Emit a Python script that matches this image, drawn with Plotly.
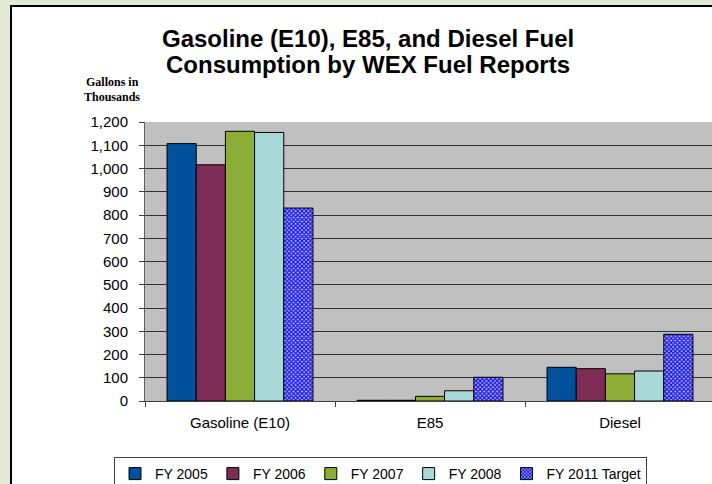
import plotly.graph_objects as go

categories = ["Gasoline (E10)", "E85", "Diesel"]
series_names = ["FY 2005", "FY 2006", "FY 2007", "FY 2008", "FY 2011 Target"]
fy2005 = [1107, 3, 145]
fy2006 = [1016, 3, 139]
fy2007 = [1160, 20, 117]
fy2008 = [1155, 44, 129]
fy2011_target = [830, 102, 287]
y_ticks = list(range(0, 1300, 100))

series_values = [fy2005, fy2006, fy2007, fy2008, fy2011_target]
colors = ["#00509c", "#7e2c56", "#8cae36", "#a8d8d8", "#5a5af0"]

W, H = 720, 496          # slightly larger than the window: plot area and legend run off the edges
P_LEFT, P_TOP, P_BOTTOM = 145, 122, 401
L, T, B, R = P_LEFT, P_TOP, H - P_BOTTOM, 0
pw = W - L - R
ph = H - T - B
CAT_W = 190

def px(x):
    return (x - P_LEFT) / pw

def py(y):
    return (P_BOTTOM - y) / ph

fig = go.Figure()
for i, (name, vals) in enumerate(zip(series_names, series_values)):
    marker = dict(color=colors[i], line=dict(color="black", width=1))
    if i == 4:
        marker["pattern"] = dict(shape="x", fgcolor="#1010e0", bgcolor="#b0b0ff",
                                 size=3, solidity=0.6, fillmode="replace")
    fig.add_trace(go.Bar(x=categories, y=vals, name=name, marker=marker))

shapes = [
    dict(type="rect", xref="paper", yref="paper", x0=px(11), x1=1.2, y0=-0.5, y1=py(6),
         fillcolor="white", line=dict(color="black", width=2), layer="below"),
    dict(type="rect", xref="paper", yref="paper", x0=0, x1=1.01, y0=0, y1=1,
         fillcolor="#c0c0c0", line=dict(width=0), layer="below"),
]

FONT = "Arial, Liberation Sans, sans-serif"
fig.update_layout(
    width=W, height=H,
    margin=dict(l=L, r=R, t=T, b=B, pad=0),
    paper_bgcolor="#e3ebd7",
    plot_bgcolor="rgba(0,0,0,0)",
    barmode="group", bargap=0.232, bargroupgap=0,
    shapes=shapes,
    font=dict(family=FONT, size=15, color="black"),
    xaxis=dict(range=[-0.5, -0.5 + pw / CAT_W], tickson="boundaries", ticks="outside", ticklen=5,
               tickcolor="#404040", showline=True, linecolor="#404040", linewidth=1,
               showgrid=False, ticklabelstandoff=8, fixedrange=True,
               tickfont=dict(size=15)),
    yaxis=dict(range=[0, 1200], tickvals=y_ticks, tickformat=",", ticks="outside", ticklen=5,
               tickcolor="#404040", showline=True, linecolor="#606060", linewidth=1,
               showgrid=True, gridcolor="#303030", gridwidth=1, zeroline=False,
               ticklabelstandoff=8, fixedrange=True, tickfont=dict(size=15)),
    legend=dict(orientation="h", x=px(114), xanchor="left", y=py(457), yanchor="top",
                bordercolor="#404040", borderwidth=1, bgcolor="white",
                font=dict(size=14, family=FONT), traceorder="normal"),
    annotations=[
        dict(text="<b>Gasoline (E10), E85, and Diesel Fuel</b>", xref="paper", yref="paper",
             x=px(368), y=py(39), xanchor="center", yanchor="middle", showarrow=False,
             font=dict(family=FONT, size=24, color="black")),
        dict(text="<b>Consumption by WEX Fuel Reports</b>", xref="paper", yref="paper",
             x=px(368), y=py(64), xanchor="center", yanchor="middle", showarrow=False,
             font=dict(family=FONT, size=24, color="black")),
        dict(text="<b>Gallons in</b>", xref="paper", yref="paper",
             x=px(112), y=py(82), xanchor="center", yanchor="middle", showarrow=False,
             font=dict(family="Liberation Serif, Times New Roman, serif", size=12, color="black")),
        dict(text="<b>Thousands</b>", xref="paper", yref="paper",
             x=px(112), y=py(97), xanchor="center", yanchor="middle", showarrow=False,
             font=dict(family="Liberation Serif, Times New Roman, serif", size=12, color="black")),
    ],
)

fig.write_html(
    "out.html",
    config={"displayModeBar": False, "staticPlot": True},
    post_script=(
        "document.body.style.margin='0';"
        "document.body.style.overflow='hidden';"
        "document.documentElement.style.overflow='hidden';"
    ),
)
